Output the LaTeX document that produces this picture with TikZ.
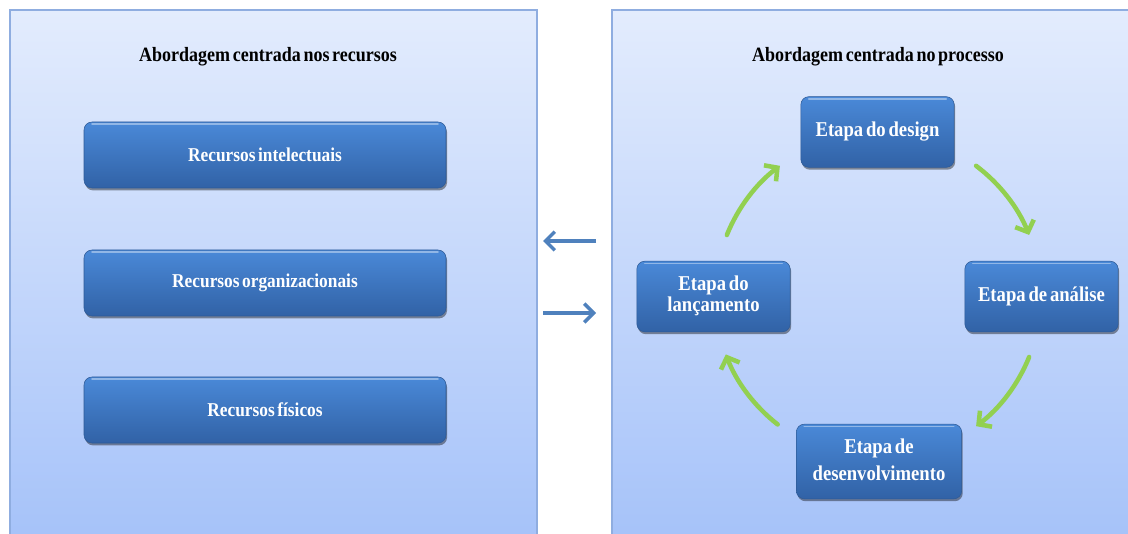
\documentclass[tikz,border=0pt]{standalone}
\usepackage{graphicx}
\usepackage{fontspec}
\setmainfont{Liberation Serif}[WordSpace=0.6]
\usetikzlibrary{arrows.meta,shadows}

\definecolor{panelTop}{HTML}{E3ECFD}
\definecolor{panelBot}{HTML}{A5C2F9}
\definecolor{panelEdge}{HTML}{8FADE0}
\definecolor{boxTop}{HTML}{4A89D8}
\definecolor{boxBot}{HTML}{3162A6}
\definecolor{boxEdge}{HTML}{2E5A96}
\definecolor{cycleGreen}{HTML}{92D050}
\definecolor{linkBlue}{HTML}{4F81BD}

% slightly taller lettering
\newcommand{\tallText}[1]{\scalebox{1}[1.13]{#1}}

\tikzset{
  panel/.style={draw=panelEdge, line width=0.9pt, top color=panelTop, bottom color=panelBot},
  heading/.style={font=\bfseries\fontsize{13.5}{15}\selectfont, text=black, inner sep=0pt},
  stagebox/.style={rounded corners=6pt, top color=boxTop, bottom color=boxBot,
    draw=boxEdge, line width=0.4pt, text=white, align=center, inner sep=0pt,
    drop shadow={shadow xshift=0.8pt, shadow yshift=-1.8pt, opacity=0.4, fill=black},
    path picture={
      \draw[white, opacity=0.4, line width=1.4pt, line cap=round]
        ([xshift=6pt,yshift=-1.8pt]path picture bounding box.north west) --
        ([xshift=-6pt,yshift=-1.8pt]path picture bounding box.north east);
    }},
  wide/.style={stagebox, minimum width=271.5pt, minimum height=49.5pt,
    font=\bfseries\fontsize{13}{15}\selectfont},
  phase/.style={stagebox, minimum width=115pt, minimum height=53pt,
    font=\bfseries\fontsize{14}{13}\selectfont},
  cyclearrow/.style={draw=cycleGreen, line width=3.4pt, line cap=round,
    -{Straight Barb[length=7pt,width=15pt,line width=3.4pt]}},
  linkarrow/.style={draw=linkBlue, line width=2.6pt,
    -{Straight Barb[length=7pt,width=14pt,line width=2.6pt]}}
}

\begin{document}
\begin{tikzpicture}[x=0.75pt,y=-0.75pt]
  \useasboundingbox (0,0) rectangle (1128,534);
  \clip (0,0) rectangle (1128,534);

  % the two panels
  \path[panel] (10,10) rectangle (537,545);
  \path[panel] (612,10) rectangle (1140,545);

  % left panel: resource-centred approach
  \node[heading] (ltitle) at (268,57) {\tallText{Abordagem centrada nos recursos}};
  \node[wide] (intel) at (265,155) {\tallText{Recursos intelectuais}};
  \node[wide] (org)   at (265,283) {\tallText{Recursos organizacionais}};
  \node[wide] (fis)   at (265,410) {\tallText{Recursos físicos}};

  % right panel: process-centred approach
  \node[heading] (rtitle) at (878,57) {\tallText{Abordagem centrada no processo}};
  \node[phase] (design) at (877.5,132) {\tallText{Etapa do design}};
  \node[phase] (anal)   at (1041.5,296.5) {\tallText{Etapa de análise}};
  \node[phase] (launch) at (713.5,296.5)
    {\tallText{\begin{tabular}{@{}c@{}}Etapa do\\lançamento\end{tabular}}};
  \node[phase, minimum width=124pt, minimum height=56pt,
        font=\bfseries\fontsize{14}{18}\selectfont] (devel) at (879,461.5)
    {\tallText{\begin{tabular}{@{}c@{}}Etapa de\\desenvolvimento\end{tabular}}};

  % cycle arrows on a circle round the four phases
  \coordinate (ctr) at (878,296);
  \draw[cyclearrow] ([shift={(158:122.25pt)}]ctr) arc[start angle=158, end angle=127, radius=122.25pt];
  \draw[cyclearrow] ([shift={(53:122.25pt)}]ctr) arc[start angle=53, end angle=22, radius=122.25pt];
  \draw[cyclearrow] ([shift={(-22:122.25pt)}]ctr) arc[start angle=-22, end angle=-53, radius=122.25pt];
  \draw[cyclearrow] ([shift={(-128:122.25pt)}]ctr) arc[start angle=-128, end angle=-159, radius=122.25pt];

  % arrows between the panels
  \coordinate (inR) at (596,241);
  \coordinate (inL) at (543,241);
  \coordinate (outL) at (543,313);
  \coordinate (outR) at (596,313);
  \draw[linkarrow] (inR) -- (inL);
  \draw[linkarrow] (outL) -- (outR);
\end{tikzpicture}
\end{document}
